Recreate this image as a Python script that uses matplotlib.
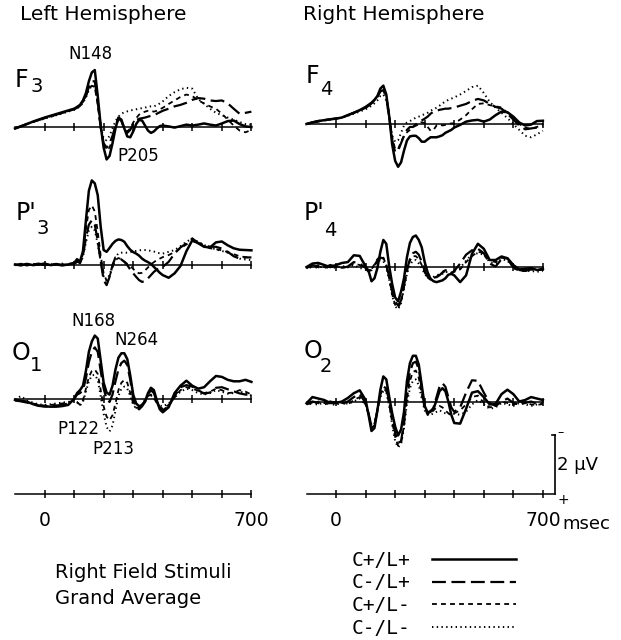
import matplotlib
matplotlib.use("Agg")
import matplotlib.pyplot as plt

plt.rcParams['font.family'] = ['DejaVu Sans']
plt.rcParams['lines.scale_dashes'] = False

# ---------------- data (msec, microvolts; negative plotted upward) ----------------
TIME = [-100, -80, -60, -40, -20, 0, 20, 40, 60, 80,
        100, 110, 120, 130, 140, 150, 160, 170, 180, 190,
        200, 210, 220, 230, 240, 250, 260, 270, 280, 290,
        300, 310, 320, 330, 340, 350, 360, 370, 380, 390,
        400, 420, 440, 460, 480, 500, 520, 540, 560, 580,
        600, 620, 640, 660, 680, 700]
TICKS = [0, 100, 200, 300, 400, 500, 600, 700]
CONDITIONS = ['C+/L+', 'C-/L+', 'C+/L-', 'C-/L-']

F3_PP = [0.05, -0.02, -0.10, -0.18, -0.25, -0.32, -0.38, -0.44, -0.50, -0.56,
         -0.62, -0.68, -0.75, -0.90, -1.15, -1.55, -1.85, -1.93, -1.05, -0.05,
         0.70, 1.10, 0.98, 0.55, 0.05, -0.32, -0.25, 0.05, 0.32, 0.35,
         0.15, -0.10, -0.24, -0.22, -0.05, 0.12, 0.20, 0.15, 0.05, -0.03,
         -0.05, -0.02, 0.02, -0.03, -0.08, -0.05, -0.08, -0.12, -0.08, -0.05,
         -0.12, -0.20, -0.22, -0.10, -0.02, 0.0]
F3_MP = [0.05, -0.03, -0.10, -0.17, -0.24, -0.30, -0.36, -0.42, -0.48, -0.54,
         -0.60, -0.66, -0.72, -0.85, -1.05, -1.35, -1.55, -1.55, -0.85, 0.0,
         0.55, 0.70, 0.55, 0.30, -0.05, -0.30, -0.20, 0.05, 0.20, 0.10,
         -0.10, -0.22, -0.28, -0.30, -0.32, -0.35, -0.38, -0.40, -0.45, -0.50,
         -0.55, -0.62, -0.70, -0.75, -0.82, -0.92, -0.98, -0.96, -0.90, -0.88,
         -0.90, -0.80, -0.62, -0.45, -0.48, -0.52]
F3_PM = [0.05, -0.02, -0.10, -0.17, -0.24, -0.30, -0.36, -0.42, -0.48, -0.54,
         -0.60, -0.65, -0.72, -0.85, -1.05, -1.30, -1.40, -1.35, -0.75, 0.05,
         0.60, 0.78, 0.70, 0.40, 0.0, -0.25, -0.20, 0.05, 0.15, 0.05,
         -0.15, -0.30, -0.42, -0.48, -0.52, -0.55, -0.55, -0.52, -0.55, -0.60,
         -0.65, -0.78, -0.90, -1.02, -1.10, -1.05, -0.90, -0.80, -0.70, -0.62,
         -0.45, -0.25, -0.05, 0.12, 0.18, 0.10]
F3_MM = [0.05, -0.02, -0.10, -0.17, -0.23, -0.28, -0.34, -0.40, -0.46, -0.52,
         -0.58, -0.63, -0.70, -0.82, -1.00, -1.25, -1.40, -1.38, -0.80, -0.05,
         0.40, 0.45, 0.30, 0.05, -0.20, -0.35, -0.45, -0.50, -0.53, -0.56,
         -0.58, -0.60, -0.62, -0.64, -0.66, -0.68, -0.70, -0.70, -0.74, -0.80,
         -0.87, -1.05, -1.18, -1.28, -1.33, -1.30, -0.95, -0.78, -0.62, -0.48,
         -0.40, -0.32, -0.25, -0.17, -0.10, -0.08]

F4_PP = [0.0, -0.05, -0.10, -0.13, -0.16, -0.18, -0.22, -0.30, -0.38, -0.47,
         -0.58, -0.65, -0.72, -0.82, -0.95, -1.20, -1.30, -1.00, -0.25, 0.70,
         1.25, 1.45, 1.30, 0.90, 0.56, 0.42, 0.40, 0.40, 0.48, 0.60,
         0.60, 0.52, 0.45, 0.45, 0.45, 0.42, 0.38, 0.30, 0.25, 0.20,
         0.12, 0.03, -0.08, -0.12, -0.14, -0.08, -0.15, -0.30, -0.42, -0.40,
         -0.25, -0.05, 0.05, 0.02, -0.10, -0.11]
F4_MP = [0.0, -0.06, -0.10, -0.13, -0.16, -0.19, -0.22, -0.30, -0.38, -0.46,
         -0.55, -0.62, -0.70, -0.80, -0.92, -1.10, -1.15, -0.90, -0.25, 0.55,
         0.95, 0.90, 0.65, 0.40, 0.20, 0.10, 0.10, 0.05, 0.00, -0.12,
         -0.18, -0.25, -0.35, -0.42, -0.45, -0.48, -0.50, -0.52, -0.52, -0.54,
         -0.56, -0.62, -0.68, -0.78, -0.85, -0.80, -0.68, -0.58, -0.52, -0.35,
         -0.15, 0.05, 0.18, 0.15, 0.12, 0.05]
F4_PM = [0.0, -0.04, -0.08, -0.12, -0.15, -0.18, -0.22, -0.30, -0.38, -0.46,
         -0.55, -0.62, -0.70, -0.80, -0.95, -1.15, -1.20, -0.95, -0.30, 0.45,
         0.85, 0.85, 0.60, 0.40, 0.28, 0.20, 0.10, 0.00, -0.05, -0.06,
         -0.03, 0.10, 0.23, 0.20, 0.05, 0.02, 0.05, 0.03, 0.00, -0.02,
         -0.02, -0.15, -0.30, -0.50, -0.68, -0.70, -0.64, -0.60, -0.56, -0.38,
         -0.20, 0.00, 0.12, 0.17, 0.10, 0.00]
F4_MM = [0.0, -0.05, -0.10, -0.12, -0.15, -0.18, -0.22, -0.28, -0.35, -0.42,
         -0.50, -0.55, -0.62, -0.70, -0.80, -0.95, -1.00, -0.80, -0.20, 0.40,
         0.60, 0.55, 0.30, 0.05, -0.05, -0.10, -0.15, -0.22, -0.25, -0.30,
         -0.33, -0.38, -0.45, -0.50, -0.55, -0.62, -0.70, -0.76, -0.82, -0.86,
         -0.90, -1.00, -1.12, -1.25, -1.30, -1.05, -0.75, -0.55, -0.38, -0.20,
         0.0, 0.20, 0.40, 0.45, 0.35, 0.23]

P3_PP = [0.0, 0.03, -0.02, 0.02, 0.0, -0.03, 0.02, 0.0, 0.03, 0.0,
         -0.05, -0.18, -0.10, -0.45, -1.50, -2.50, -2.85, -2.75, -2.35, -1.28,
         -0.49, -0.43, -0.56, -0.70, -0.80, -0.85, -0.83, -0.77, -0.62, -0.50,
         -0.42, -0.37, -0.30, -0.20, -0.13, -0.08, -0.02, 0.08, 0.18, 0.28,
         0.36, 0.45, 0.30, 0.05, -0.45, -0.82, -0.72, -0.60, -0.58, -0.75,
         -0.78, -0.65, -0.55, -0.50, -0.49, -0.48]
P3_MP = [0.02, -0.02, 0.03, 0.0, -0.03, 0.02, 0.0, -0.02, 0.02, 0.0,
         -0.03, -0.10, -0.05, -0.30, -0.90, -1.35, -1.50, -1.35, -0.80, -0.10,
         0.53, 0.70, 0.42, 0.02, -0.24, -0.24, -0.17, -0.09, 0.02, 0.17,
         0.30, 0.42, 0.53, 0.59, 0.56, 0.47, 0.36, 0.25, 0.17, 0.10,
         0.08, -0.09, -0.37, -0.58, -0.71, -0.88, -0.73, -0.66, -0.60, -0.60,
         -0.54, -0.43, -0.28, -0.20, -0.24, -0.24]
P3_PM = [0.02, 0.0, 0.02, -0.02, 0.02, 0.0, -0.02, 0.03, 0.0, -0.02,
         -0.05, -0.12, -0.08, -0.35, -1.20, -1.85, -2.00, -1.80, -1.10, -0.30,
         0.30, 0.55, 0.40, 0.10, -0.15, -0.22, -0.18, -0.10, -0.02, 0.05,
         0.15, 0.25, 0.30, 0.28, 0.20, 0.10, 0.0, -0.08, -0.15, -0.20,
         -0.25, -0.32, -0.42, -0.55, -0.68, -0.80, -0.72, -0.62, -0.55, -0.52,
         -0.48, -0.42, -0.35, -0.28, -0.25, -0.25]
P3_MM = [0.0, 0.02, -0.02, 0.03, 0.0, -0.02, 0.02, 0.0, -0.03, 0.02,
         -0.03, -0.08, -0.05, -0.25, -0.75, -1.15, -1.28, -1.15, -0.70, -0.10,
         0.40, 0.53, 0.35, 0.05, -0.25, -0.38, -0.40, -0.40, -0.40, -0.42,
         -0.44, -0.46, -0.48, -0.49, -0.49, -0.48, -0.46, -0.44, -0.40, -0.38,
         -0.37, -0.43, -0.49, -0.62, -0.77, -0.88, -0.77, -0.66, -0.58, -0.51,
         -0.46, -0.40, -0.32, -0.20, -0.17, -0.15]

P4_PP = [0.02, -0.10, -0.12, -0.05, 0.02, -0.05, -0.12, -0.15, -0.38, -0.36,
         0.0, 0.15, 0.50, 0.40, 0.05, -0.50, -0.90, -0.77, 0.0, 0.60,
         1.05, 1.18, 0.85, 0.40, -0.32, -0.80, -1.00, -1.05, -0.90, -0.65,
         -0.15, 0.20, 0.42, 0.50, 0.53, 0.50, 0.47, 0.40, 0.28, 0.25,
         0.30, 0.53, 0.30, -0.43, -0.77, -0.60, -0.22, -0.22, -0.34, -0.28,
         -0.05, 0.10, 0.08, 0.05, 0.12, 0.08]
P4_MP = [0.05, -0.05, 0.02, 0.05, -0.05, 0.0, 0.05, 0.0, -0.15, -0.10,
         0.05, 0.15, 0.12, -0.05, -0.20, -0.30, -0.28, -0.05, 0.35, 0.85,
         1.20, 1.32, 1.15, 0.65, 0.10, -0.25, -0.45, -0.50, -0.40, -0.15,
         0.15, 0.35, 0.42, 0.38, 0.36, 0.30, 0.20, 0.15, 0.20, 0.25,
         0.15, -0.10, -0.40, -0.55, -0.60, -0.45, -0.10, 0.0, -0.25, -0.28,
         0.0, 0.12, 0.15, 0.10, 0.12, 0.10]
P4_PM = [0.0, 0.05, -0.05, 0.02, 0.05, -0.03, 0.05, -0.02, -0.10, -0.05,
         0.08, 0.18, 0.10, -0.08, -0.25, -0.35, -0.30, -0.05, 0.40, 0.95,
         1.30, 1.40, 1.20, 0.70, 0.15, -0.20, -0.35, -0.35, -0.25, -0.05,
         0.20, 0.38, 0.45, 0.40, 0.35, 0.25, 0.18, 0.12, 0.15, 0.20,
         0.18, 0.10, -0.15, -0.35, -0.50, -0.45, -0.20, -0.15, -0.30, -0.25,
         0.05, 0.15, 0.15, 0.08, 0.10, 0.12]
P4_MM = [0.05, 0.0, 0.05, -0.03, 0.0, 0.05, -0.02, 0.03, -0.05, 0.05,
         0.10, 0.15, 0.08, -0.05, -0.15, -0.22, -0.18, 0.05, 0.45, 1.00,
         1.35, 1.45, 1.25, 0.75, 0.25, -0.05, -0.20, -0.22, -0.10, 0.05,
         0.25, 0.38, 0.40, 0.35, 0.30, 0.28, 0.25, 0.18, 0.20, 0.22,
         0.15, 0.05, -0.20, -0.40, -0.45, -0.40, -0.15, -0.10, -0.25, -0.20,
         0.05, 0.12, 0.15, 0.15, 0.18, 0.15]

O1_PP = [0.03, 0.06, 0.09, 0.17, 0.23, 0.25, 0.26, 0.26, 0.24, 0.20,
         0.0, -0.20, -0.30, -0.45, -0.95, -1.60, -1.95, -2.15, -2.05, -1.30,
         -0.55, -0.22, -0.15, -0.45, -1.00, -1.40, -1.55, -1.55, -1.35, -0.80,
         -0.15, 0.15, 0.25, 0.20, 0.08, -0.20, -0.38, -0.30, 0.05, 0.35,
         0.45, 0.28, -0.20, -0.45, -0.62, -0.45, -0.35, -0.40, -0.60, -0.78,
         -0.75, -0.65, -0.60, -0.60, -0.65, -0.58]
O1_MP = [0.05, 0.08, 0.12, 0.18, 0.22, 0.25, 0.25, 0.22, 0.20, 0.15,
         0.0, -0.15, -0.20, -0.30, -0.70, -1.25, -1.60, -1.75, -1.60, -0.95,
         -0.35, 0.0, 0.10, -0.15, -0.60, -1.00, -1.22, -1.30, -1.15, -0.65,
         0.0, 0.30, 0.35, 0.25, 0.10, -0.15, -0.30, -0.20, 0.10, 0.30,
         0.38, 0.25, -0.10, -0.40, -0.47, -0.42, -0.30, -0.18, -0.22, -0.38,
         -0.40, -0.33, -0.26, -0.19, -0.15, -0.14]
O1_PM = [0.02, 0.05, 0.10, 0.15, 0.20, 0.22, 0.20, 0.18, 0.15, 0.12,
         0.05, 0.10, 0.20, 0.05, -0.35, -0.75, -0.95, -1.00, -0.85, -0.30,
         0.25, 0.60, 0.72, 0.55, 0.15, -0.30, -0.55, -0.65, -0.55, -0.20,
         0.15, 0.30, 0.30, 0.20, 0.05, -0.10, -0.15, -0.05, 0.15, 0.28,
         0.32, 0.20, -0.05, -0.30, -0.40, -0.35, -0.28, -0.20, -0.25, -0.35,
         -0.30, -0.20, -0.22, -0.30, -0.25, -0.15]
O1_MM = [0.02, -0.10, 0.05, 0.12, 0.18, 0.20, 0.18, 0.15, 0.12, 0.10,
         0.05, 0.12, 0.22, 0.10, -0.25, -0.60, -0.80, -0.82, -0.65, -0.10,
         0.50, 0.95, 1.10, 0.90, 0.40, -0.10, -0.35, -0.42, -0.35, -0.10,
         0.20, 0.32, 0.30, 0.18, 0.02, -0.10, -0.12, -0.02, 0.12, 0.22,
         0.25, 0.15, -0.05, -0.25, -0.35, -0.30, -0.20, -0.15, -0.20, -0.30,
         -0.25, -0.18, -0.20, -0.25, -0.20, -0.12]

O2_PP = [0.06, -0.15, -0.10, -0.05, 0.05, 0.05, 0.0, -0.12, -0.28, -0.38,
         -0.05, 0.45, 1.00, 0.90, 0.30, -0.40, -0.85, -0.75, -0.15, 0.40,
         0.85, 1.15, 0.95, 0.35, -0.70, -1.30, -1.55, -1.55, -1.25, -0.55,
         0.15, 0.38, 0.32, 0.25, -0.05, -0.35, -0.45, -0.35, 0.0, 0.45,
         0.73, 0.75, 0.25, -0.30, -0.35, -0.15, 0.10, 0.08, -0.25, -0.40,
         -0.25, 0.0, -0.05, -0.15, -0.10, -0.05]
O2_MP = [0.10, 0.0, 0.05, 0.10, 0.0, 0.05, 0.08, 0.0, -0.15, -0.25,
         0.05, 0.40, 0.85, 0.80, 0.30, -0.25, -0.50, -0.45, 0.0, 0.55,
         1.05, 1.40, 1.35, 0.70, -0.30, -1.00, -1.30, -1.35, -1.10, -0.45,
         0.20, 0.40, 0.35, 0.20, -0.15, -0.50, -0.62, -0.50, -0.15, 0.20,
         0.35, 0.20, -0.30, -0.72, -0.70, -0.30, 0.05, 0.15, 0.0, -0.10,
         0.05, 0.10, 0.05, 0.0, 0.08, 0.05]
O2_PM = [0.05, 0.10, 0.0, 0.05, 0.10, 0.0, 0.05, 0.10, -0.05, -0.15,
         0.10, 0.45, 0.90, 0.80, 0.25, -0.25, -0.45, -0.35, 0.10, 0.70,
         1.20, 1.50, 1.40, 0.80, -0.10, -0.70, -1.00, -1.05, -0.80, -0.25,
         0.25, 0.45, 0.40, 0.30, 0.20, 0.15, 0.20, 0.30, 0.40, 0.45,
         0.40, 0.30, 0.10, -0.15, -0.20, 0.05, 0.20, 0.15, 0.0, 0.05,
         0.10, 0.05, 0.02, 0.10, 0.12, 0.08]
O2_MM = [0.08, 0.05, 0.12, 0.0, 0.08, 0.12, 0.02, 0.08, 0.0, -0.10,
         0.10, 0.40, 0.80, 0.75, 0.30, -0.15, -0.35, -0.30, 0.15, 0.80,
         1.35, 1.55, 1.45, 0.90, 0.05, -0.45, -0.70, -0.75, -0.55, -0.10,
         0.30, 0.45, 0.45, 0.40, 0.35, 0.30, 0.35, 0.40, 0.42, 0.45,
         0.42, 0.45, 0.35, 0.10, -0.05, 0.10, 0.25, 0.20, 0.05, 0.10,
         0.15, 0.05, 0.10, 0.15, 0.10, 0.08]

# ---------------- layout helpers (pixel geometry of the original figure) ----------------
W, H = 621, 640
fig = plt.figure(figsize=(W / 100, H / 100), dpi=100)
PX_UV = 29.5      # pixels per microvolt
PX_MS = 0.2955    # pixels per millisecond


def px_axes(x_start, base_y, t1=700, half=3.5):
    t0 = -100
    x_end = x_start + (t1 - t0) * PX_MS
    top = base_y - half * PX_UV
    bot = base_y + half * PX_UV
    ax = fig.add_axes([x_start / W, 1 - bot / H, (x_end - x_start) / W, (bot - top) / H])
    ax.set_xlim(t0, t1)
    ax.set_ylim(half, -half)          # negative up
    ax.patch.set_visible(False)
    for s in ('top', 'left', 'right'):
        ax.spines[s].set_visible(False)
    ax.spines['bottom'].set_position(('data', 0))
    ax.spines['bottom'].set_linewidth(1.1)
    ax.set_yticks([])
    ax.set_xticks(TICKS)
    ax.tick_params(axis='x', direction='inout', length=6, width=1.1,
                   labelbottom=False)
    return ax


STYLES = {
    'C+/L+': dict(color='black', lw=1.8, ls='-'),
    'C-/L+': dict(color='black', lw=1.6, ls=(0, (10, 4))),
    'C+/L-': dict(color='black', lw=1.3, ls=(0, (3.5, 3))),
    'C-/L-': dict(color='black', lw=1.4, ls=(0, (1, 2.4))),
}

PANELS = [
    (15.0, 127.0, [F3_PP, F3_MP, F3_PM, F3_MM]),
    (306.5, 124.0, [F4_PP, F4_MP, F4_PM, F4_MM]),
    (15.0, 264.5, [P3_PP, P3_MP, P3_PM, P3_MM]),
    (306.5, 266.5, [P4_PP, P4_MP, P4_PM, P4_MM]),
    (15.0, 399.0, [O1_PP, O1_MP, O1_PM, O1_MM]),
    (306.5, 401.5, [O2_PP, O2_MP, O2_PM, O2_MM]),
]

legend_handles = None
for x0, base, series in PANELS:
    ax = px_axes(x0, base)
    handles = []
    for cond, vals in reversed(list(zip(CONDITIONS, series))):
        if len(vals) != len(TIME):
            raise ValueError('length mismatch')
        ln, = ax.plot(TIME, vals, label=cond, clip_on=False,
                      solid_joinstyle='round', **STYLES[cond])
        handles.append(ln)
    if legend_handles is None:
        legend_handles = list(reversed(handles))

# ---------------- time axes and calibration ----------------
ax_bl = px_axes(15.0, 494.0)
ax_bl.set_xticklabels(['0', '', '', '', '', '', '', '700'])
ax_bl.tick_params(axis='x', labelbottom=True, labelsize=13.5, pad=9)

ax_br = px_axes(306.5, 494.0, t1=740)
ax_br.set_xticklabels(['0', '', '', '', '', '', '', '700'])
ax_br.tick_params(axis='x', labelbottom=True, labelsize=13.5, pad=9)
ax_br.plot([740, 740], [0, -2], color='black', lw=1.2, clip_on=False)
ax_br.plot([731, 740], [-2, -2], color='black', lw=1.2, clip_on=False)
ax_br.text(749, -2.1, '\u2013', fontsize=9, ha='left', va='center')
ax_br.text(749, 0.2, '+', fontsize=10, ha='left', va='center')
ax_br.text(748, -1.0, '2 \u00b5V', fontsize=13, ha='left', va='center')


def ftext(x, y, s, **kw):
    fig.text(x / W, 1 - y / H, s, **kw)


ftext(562, 529, 'msec', fontsize=13, ha='left', va='baseline')

# ---------------- labels ----------------
ftext(20, 15, 'Left Hemisphere', fontsize=14.5, ha='left', va='center')
ftext(303, 15, 'Right Hemisphere', fontsize=14.5, ha='left', va='center')

ELECTRODES = [('F', '3', 15, 87, 31, 92), ('F', '4', 306, 83, 320, 95),
              ("P'", '3', 16, 220, 36, 234), ("P'", '4', 304, 220, 324, 236),
              ('O', '1', 12, 360, 30, 371), ('O', '2', 304, 358, 320, 372)]
for main, sub, xm, ym, xs, ys in ELECTRODES:
    ftext(xm, ym, main, fontsize=17, ha='left', va='baseline')
    ftext(xs, ys, sub, fontsize=14, ha='left', va='baseline')

PEAKS = [('N148', 90, 54), ('P205', 138, 156), ('N168', 93, 321),
         ('N264', 136, 340), ('P122', 78, 429), ('P213', 113, 449)]
for s, x, y in PEAKS:
    ftext(x, y, s, fontsize=12, ha='center', va='center')

ftext(55, 572, 'Right Field Stimuli', fontsize=14, ha='left', va='center')
ftext(55, 598, 'Grand Average', fontsize=14, ha='left', va='center')

fig.legend(handles=legend_handles, labels=CONDITIONS, loc='upper left',
           bbox_to_anchor=(352 / W, 1 - 551 / H), frameon=False,
           markerfirst=False, handlelength=4.3, handletextpad=1.1,
           labelspacing=0.18, borderpad=0, borderaxespad=0,
           prop={'family': 'DejaVu Sans Mono', 'size': 14})

fig.savefig('out.png', dpi=100, facecolor='white')
